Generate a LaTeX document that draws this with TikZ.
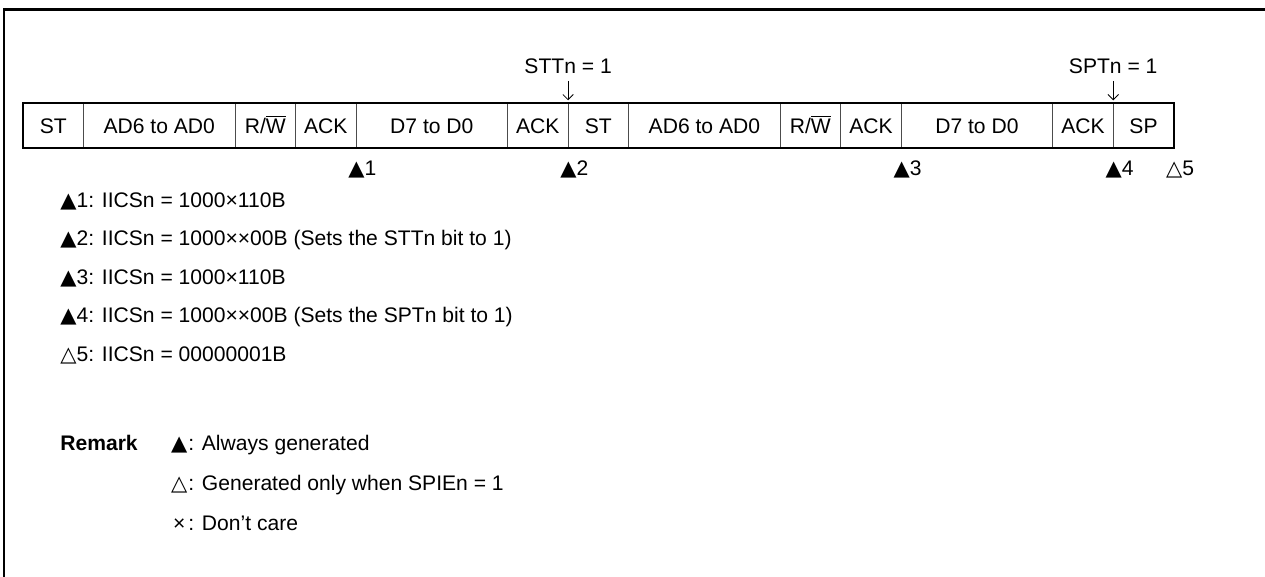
\documentclass[tikz,border=0pt]{standalone}
\usepackage{fontspec}
\setmainfont{Liberation Sans}
\newfontfamily\simbolos{DejaVu Sans}
\usetikzlibrary{positioning,arrows.meta}
\newcommand{\trilleno}{{\simbolos\fontsize{12}{14}\selectfont ▲}}
\newcommand{\trivacio}{{\simbolos\fontsize{12}{14}\selectfont △}}

\begin{document}
\begin{tikzpicture}[
    x=0.02cm, y=-0.02cm,
    campo/.style={draw=black!70, line width=0.5pt, minimum width=1.2116cm, minimum height=0.9cm,
        inner sep=0pt, outer sep=0pt, text height=8.6pt, text depth=0pt},
    ancho/.style={minimum width=3.029cm},
    texto/.style={anchor=base west, inner sep=0pt},
    etiq/.style={inner sep=1pt},
    flecha/.style={-{Straight Barb[length=3pt,width=6pt]}, line width=0.5pt},
    font=\fontsize{12}{14}\selectfont
]
    \useasboundingbox (0,0) rectangle (1265,577);
    % Marco exterior (solo arriba y a la izquierda)
    \draw[line width=0.06cm] (1270,10) -- (4,10) -- (4,580);

    % Campos de la trama, uno junto a otro
    \node[campo, anchor=north west] (c1) at (23,103) {ST};
    \node[campo, ancho, right=0pt of c1] (c2) {AD6 to AD0};
    \node[campo, right=0pt of c2] (c3) {R/$\overline{\mbox{W}}$};
    \node[campo, right=0pt of c3] (c4) {ACK};
    \node[campo, ancho, right=0pt of c4] (c5) {D7 to D0};
    \node[campo, right=0pt of c5] (c6) {ACK};
    \node[campo, right=0pt of c6] (c7) {ST};
    \node[campo, ancho, right=0pt of c7] (c8) {AD6 to AD0};
    \node[campo, right=0pt of c8] (c9) {R/$\overline{\mbox{W}}$};
    \node[campo, right=0pt of c9] (c10) {ACK};
    \node[campo, ancho, right=0pt of c10] (c11) {D7 to D0};
    \node[campo, right=0pt of c11] (c12) {ACK};
    \node[campo, right=0pt of c12] (c13) {SP};
    \draw[line width=0.85pt] (c1.north west) rectangle (c13.south east);

    % Bits que se ponen a 1
    \node[etiq] (stt) at ([yshift=0.74cm]c6.north east) {STTn = 1};
    \node[etiq] (spt) at ([yshift=0.74cm]c12.north east) {SPTn = 1};
    \draw[flecha, shorten <=3pt, shorten >=1.5pt] (stt) -- (c6.north east);
    \draw[flecha, shorten <=3pt, shorten >=1.5pt] (spt) -- (c12.north east);

    % Marcas de interrupcion bajo la trama
    \node[texto, xshift=-0.16cm, yshift=-0.55cm] (m1) at (c4.south east) {\trilleno1};
    \node[texto, xshift=-0.16cm, yshift=-0.55cm] (m2) at (c6.south east) {\trilleno2};
    \node[texto, xshift=-0.16cm, yshift=-0.55cm] (m3) at (c10.south east) {\trilleno3};
    \node[texto, xshift=-0.16cm, yshift=-0.55cm] (m4) at (c12.south east) {\trilleno4};
    \node[texto, xshift=-0.16cm, yshift=-0.55cm] (m5) at (c13.south east) {\trivacio5};

    % Valores de IICSn
    \node[texto] (l1) at (60,207.5) {\trilleno1: IICSn = 1000×110B};
    \node[texto] (l2) at (60,246) {\trilleno2: IICSn = 1000××00B (Sets the STTn bit to 1)};
    \node[texto] (l3) at (60,284.5) {\trilleno3: IICSn = 1000×110B};
    \node[texto] (l4) at (60,323) {\trilleno4: IICSn = 1000××00B (Sets the SPTn bit to 1)};
    \node[texto] (l5) at (60,361.5) {\trivacio5: IICSn = 00000001B};

    % Nota
    \node[texto, font=\fontsize{12}{14}\selectfont\bfseries] (rem) at (60,450.5) {Remark};
    \node[texto] (n1) at (170,450.5) {\makebox[0.85em][c]{\trilleno}: Always generated};
    \node[texto] (n2) at (170,490.5) {\makebox[0.85em][c]{\trivacio}: Generated only when SPIEn = 1};
    \node[texto] (n3) at (170,530.5) {\makebox[0.85em][c]{×}: Don’t care};
\end{tikzpicture}
\end{document}
